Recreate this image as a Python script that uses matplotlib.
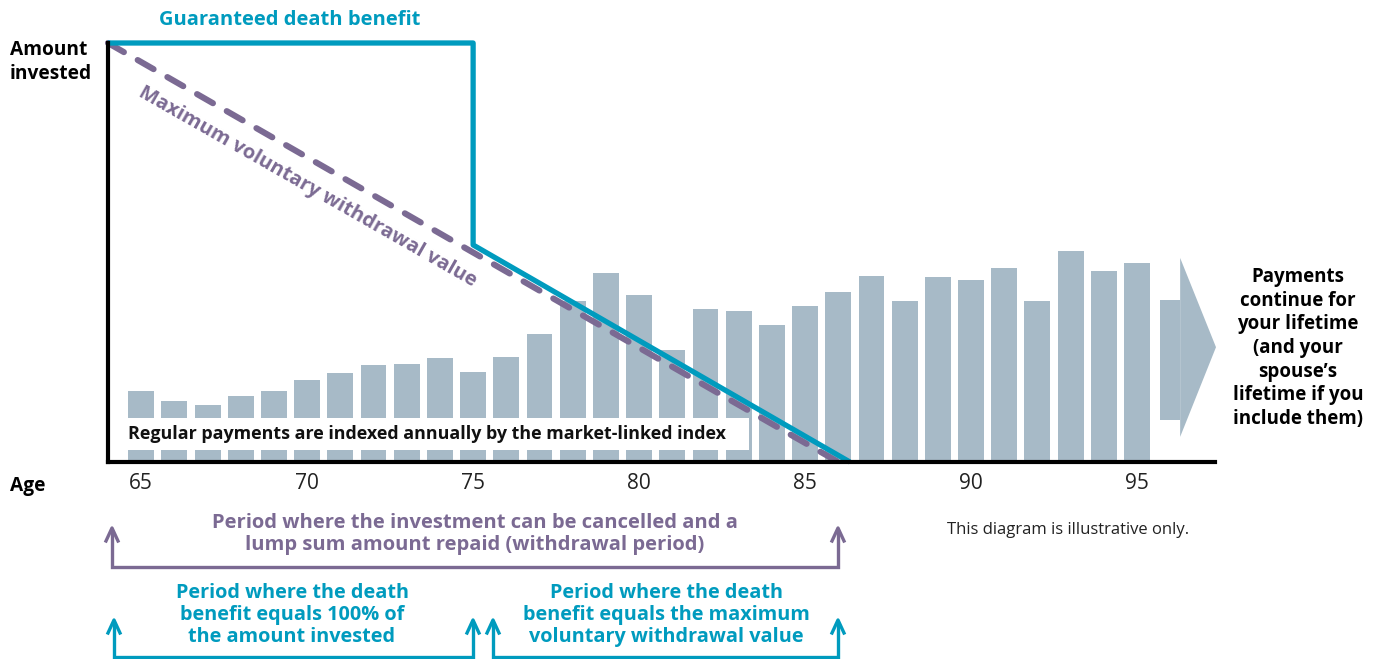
import matplotlib
matplotlib.use("Agg")
import matplotlib.pyplot as plt
from matplotlib.patches import Rectangle, Polygon
from matplotlib.lines import Line2D

# data
ages = list(range(65, 96))
payments = [16.9, 14.6, 13.6, 15.8, 16.9, 19.6, 21.2, 23.2, 23.4, 24.8,
            21.5, 25.1, 30.5, 38.4, 45.1, 39.9, 26.7, 36.5, 36.0, 32.7,
            37.2, 40.6, 44.4, 38.4, 44.2, 43.4, 46.3, 38.4, 50.4, 45.6, 47.5]
death_age = [64, 75, 75, 86.35]
death_val = [100, 100, 51.8, 0]
mvwv_age = [64, 86.0]
mvwv_val = [100, 0]
tick_ages = [65, 70, 75, 80, 85, 90, 95]

TEAL = "#009BBE"
PURPLE = "#7B6A93"
BARC = "#A7BAC7"
FONT = ["Open Sans", "DejaVu Sans"]

W, H = 1385, 659
fig = plt.figure(figsize=(W / 100, H / 100), dpi=100)
ax = fig.add_axes([108 / W, (H - 462) / H, (1215 - 108) / W, (462 - 43) / H])
ax.set_xlim(64, 97.35)
ax.set_ylim(0, 100)

def fx(px):
    return px / W

def fy(py):
    return 1 - py / H

ax.bar(ages, payments, width=0.78, color=BARC, zorder=1)

# white label box over the bars
ax.add_patch(Rectangle((64.15, 2.9), 83.3 - 64.15, 7.6, facecolor="white",
                       edgecolor="none", zorder=2))
ax.text(64.6, 6.7, "Regular payments are indexed annually by the market-linked index",
        ha="left", va="center", fontsize=12.9, fontweight="bold", family=FONT,
        color="#111111", zorder=3)

ax.plot(mvwv_age, mvwv_val, color=PURPLE, lw=4.4, linestyle=(0, (3.0, 2.6)),
        dash_capstyle="round", zorder=4, clip_on=False)
ax.plot(death_age, death_val, color=TEAL, lw=3.8, solid_joinstyle="round",
        solid_capstyle="butt", zorder=5, clip_on=False)

ax.text(70.0, 65.6, "Maximum voluntary withdrawal value", rotation=-29.7,
        rotation_mode="anchor", ha="center", va="center", fontsize=14.5,
        fontweight="bold", family=FONT, color=PURPLE, zorder=6)

# continuation arrow
ax.add_patch(Rectangle((95.69, 10.0), 96.30 - 95.69, 28.7, facecolor=BARC,
                       edgecolor="none", clip_on=False))
ax.add_patch(Polygon([(96.30, 48.7), (97.38, 27.4), (96.30, 6.0)], closed=True,
                     facecolor=BARC, edgecolor="none", clip_on=False))

for s in ["top", "right"]:
    ax.spines[s].set_visible(False)
ax.spines["left"].set_linewidth(3)
ax.spines["bottom"].set_linewidth(3)
ax.spines["left"].set_zorder(7)
ax.spines["bottom"].set_zorder(7)
ax.set_yticks([])
ax.set_xticks(tick_ages)
ax.set_xticklabels([str(a) for a in tick_ages], family=FONT, fontsize=15,
                   color="#222222")
ax.tick_params(axis="x", length=0, pad=8)

# texts around the chart
fig.text(fx(290), fy(20), "Guaranteed death benefit", ha="center", va="center",
         fontsize=14.5, fontweight="bold", family=FONT, color=TEAL)
fig.text(fx(10), fy(62), "Amount\ninvested", ha="left", va="center",
         fontsize=13.8, fontweight="bold", family=FONT, color="black",
         linespacing=1.25)
fig.text(fx(10), fy(486), "Age", ha="left", va="center", fontsize=13.8,
         fontweight="bold", family=FONT, color="black")
fig.text(fx(1298), fy(348),
         "Payments\ncontinue for\nyour lifetime\n(and your\nspouse\u2019s\nlifetime if you\ninclude them)",
         ha="center", va="center", fontsize=13.5, fontweight="bold", family=FONT,
         color="black", linespacing=1.24)
fig.text(fx(1068), fy(530), "This diagram is illustrative only.", ha="center",
         va="center", fontsize=12, family=FONT, color="#222222")

# brackets below the chart
def bracket(x0, x1, ytip, ybase, color):
    fig.add_artist(Line2D([fx(x0), fx(x0), fx(x1), fx(x1)],
                          [fy(ytip + 4), fy(ybase), fy(ybase), fy(ytip + 4)],
                          color=color, lw=2.4, solid_joinstyle="miter"))
    for x in (x0, x1):
        fig.add_artist(Line2D([fx(x - 6), fx(x), fx(x + 6)],
                              [fy(ytip + 13), fy(ytip), fy(ytip + 13)],
                              color=color, lw=2.4))

bracket(112, 838, 528, 567, PURPLE)
bracket(114, 473, 620, 657, TEAL)
bracket(493, 838, 620, 657, TEAL)

fig.text(fx(475), fy(534),
         "Period where the investment can be cancelled and a\nlump sum amount repaid (withdrawal period)",
         ha="center", va="center", fontsize=14.5, fontweight="bold", family=FONT,
         color=PURPLE, linespacing=1.12)
fig.text(fx(292), fy(615),
         "Period where the death\nbenefit equals 100% of\nthe amount invested",
         ha="center", va="center", fontsize=14.35, fontweight="bold", family=FONT,
         color=TEAL, linespacing=1.14)
fig.text(fx(666), fy(615),
         "Period where the death\nbenefit equals the maximum\nvoluntary withdrawal value",
         ha="center", va="center", fontsize=14.35, fontweight="bold", family=FONT,
         color=TEAL, linespacing=1.14)

fig.savefig("out.png", dpi=100, facecolor="white")
